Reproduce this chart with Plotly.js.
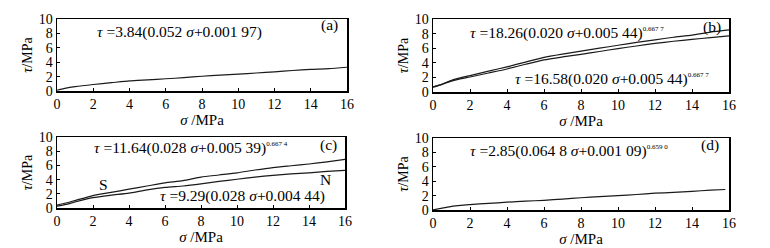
<!DOCTYPE html>
<html>
<head>
<meta charset="utf-8">
<script src="https://cdn.plot.ly/plotly-3.0.1.min.js"></script>
<style>html,body{margin:0;padding:0;background:#fff;}#chart{width:770px;height:248px;}</style>
</head>
<body>
<div id="chart"></div>
<script>
// Panel (a)
var sigmaA = [0, 0.5, 1, 2, 3, 4, 5, 6, 7, 8, 9, 10, 11, 12, 13, 14, 15, 16];
var tauA   = [0.1, 0.4, 0.6, 0.9, 1.15, 1.4, 1.55, 1.7, 1.85, 2.05, 2.2, 2.35, 2.5, 2.65, 2.85, 3.0, 3.1, 3.3];
// Panel (b)
var sigmaB = [0, 0.5, 1, 2, 3, 4, 5, 6, 7, 8, 9, 10, 11, 12, 13, 14, 15, 16];
var tauBUpper = [0.7, 1.1, 1.6, 2.25, 2.85, 3.45, 4.1, 4.75, 5.2, 5.6, 6.0, 6.4, 6.8, 7.15, 7.5, 7.8, 8.2, 8.5];
var tauBLower = [0.65, 1.05, 1.5, 2.05, 2.6, 3.15, 3.8, 4.4, 4.8, 5.15, 5.55, 5.95, 6.3, 6.65, 6.95, 7.2, 7.45, 7.7];
// Panel (c)
var sigmaC = [0, 0.5, 1, 2, 3, 4, 5, 6, 7, 8, 9, 10, 11, 12, 13, 14, 15, 16];
var tauCS = [0.4, 0.7, 1.05, 1.75, 2.2, 2.65, 3.1, 3.55, 3.85, 4.35, 4.65, 4.95, 5.35, 5.7, 5.95, 6.2, 6.5, 6.85];
var tauCN = [0.25, 0.5, 0.85, 1.45, 1.8, 2.1, 2.55, 2.9, 3.1, 3.4, 3.75, 4.05, 4.35, 4.6, 4.8, 4.95, 5.15, 5.3];
// Panel (d)
var sigmaD = [0, 0.5, 1, 1.5, 2, 3, 4, 5, 6, 7, 8, 9, 10, 11, 12, 13, 14, 15, 15.8];
var tauD   = [0.02, 0.25, 0.5, 0.65, 0.75, 0.92, 1.08, 1.22, 1.35, 1.52, 1.7, 1.85, 2.0, 2.15, 2.33, 2.45, 2.6, 2.75, 2.85];

var xTicks = [0, 2, 4, 6, 8, 10, 12, 14, 16];
var yTicks = [0, 2, 4, 6, 8, 10];

var FONT = 'Liberation Serif, Times New Roman, serif';
var lineStyle = {color: '#1a1a1a', width: 1.2, shape: 'spline', smoothing: 0.6};

function tr(x, y, xa, ya) {
  return {x: x, y: y, xaxis: xa, yaxis: ya, type: 'scatter', mode: 'lines', line: lineStyle, hoverinfo: 'skip', showlegend: false};
}

var data = [
  tr(sigmaA, tauA, 'x', 'y'),
  tr(sigmaB, tauBUpper, 'x2', 'y2'),
  tr(sigmaB, tauBLower, 'x2', 'y2'),
  tr(sigmaC, tauCS, 'x3', 'y3'),
  tr(sigmaC, tauCN, 'x3', 'y3'),
  tr(sigmaD, tauD, 'x4', 'y4')
];

function xax(dom, anchor) {
  return {
    domain: dom, anchor: anchor, range: [0, 16], tickvals: xTicks, ticktext: xTicks.map(String),
    showgrid: false, zeroline: false, showline: true, mirror: true, linecolor: '#000', linewidth: 1.5,
    ticks: 'inside', ticklen: 3, tickcolor: '#000', tickwidth: 1,
    tickfont: {family: FONT, size: 14, color: '#000'},
    title: {text: '<i>σ</i> /MPa', font: {family: FONT, size: 15, color: '#000'}, standoff: 1},
    fixedrange: true
  };
}
function yax(dom, anchor) {
  return {
    domain: dom, anchor: anchor, range: [0, 10], tickvals: yTicks, ticktext: yTicks.map(String),
    showgrid: false, zeroline: false, showline: true, mirror: true, linecolor: '#000', linewidth: 1.5,
    ticks: 'inside', ticklen: 3, tickcolor: '#000', tickwidth: 1,
    tickfont: {family: FONT, size: 14, color: '#000'},
    title: {text: '<i>τ</i>/MPa', font: {family: FONT, size: 14, color: '#000'}, standoff: 3},
    fixedrange: true
  };
}

function ann(text, x, y, xref, yref, xanchor, size) {
  return {text: text, x: x, y: y, xref: xref, yref: yref, xanchor: xanchor, yanchor: 'middle',
          showarrow: false, font: {family: FONT, size: size || 15.5, color: '#000'}};
}
function ex(t) { return '<sup><span style="font-size:7px">' + t + '</span></sup>'; }

var layout = {
  width: 770, height: 248,
  margin: {l: 0, r: 0, t: 0, b: 0},
  paper_bgcolor: '#fff', plot_bgcolor: '#fff',
  showlegend: false,
  xaxis: xax([57/770, 347/770], 'y'),
  yaxis: yax([1 - 91/248, 1 - 19/248], 'x'),
  xaxis2: xax([433/770, 729/770], 'y2'),
  yaxis2: yax([1 - 92/248, 1 - 19/248], 'x2'),
  xaxis3: xax([57/770, 345/770], 'y3'),
  yaxis3: yax([1 - 208/248, 1 - 137/248], 'x3'),
  xaxis4: xax([433/770, 729/770], 'y4'),
  yaxis4: yax([1 - 210/248, 1 - 138/248], 'x4'),
  annotations: [
    ann('<i>τ</i> =3.84(0.052 <i>σ</i>+0.001 97)', 2.1, 8.2, 'x', 'y', 'left'),
    ann('(a)', 15.06, 9.17, 'x', 'y', 'center'),
    ann('<i>τ</i> =18.26(0.020 <i>σ</i>+0.005 44)' + ex('0.667 7'), 1.89, 8.08, 'x2', 'y2', 'left'),
    ann('(b)', 15.08, 8.9, 'x2', 'y2', 'center'),
    ann('<i>τ</i> =16.58(0.020 <i>σ</i>+0.005 44)' + ex('0.667 7'), 4.32, 1.78, 'x2', 'y2', 'left'),
    ann('<i>τ</i> =11.64(0.028 <i>σ</i>+0.005 39)' + ex('0.667 4'), 1.94, 8.45, 'x3', 'y3', 'left'),
    ann('(c)', 15.1, 8.87, 'x3', 'y3', 'center'),
    ann('S', 2.6, 3.38, 'x3', 'y3', 'center'),
    ann('N', 14.9, 4.08, 'x3', 'y3', 'center'),
    ann('<i>τ</i> =9.29(0.028 <i>σ</i>+0.004 44)', 5.6, 1.69, 'x3', 'y3', 'left'),
    ann('<i>τ</i> =2.85(0.064 8 <i>σ</i>+0.001 09)' + ex('0.659 0'), 1.89, 8.2, 'x4', 'y4', 'left'),
    ann('(d)', 14.97, 9.0, 'x4', 'y4', 'center')
  ]
};

Plotly.newPlot('chart', data, layout, {staticPlot: true, displayModeBar: false});
</script>
</body>
</html>
